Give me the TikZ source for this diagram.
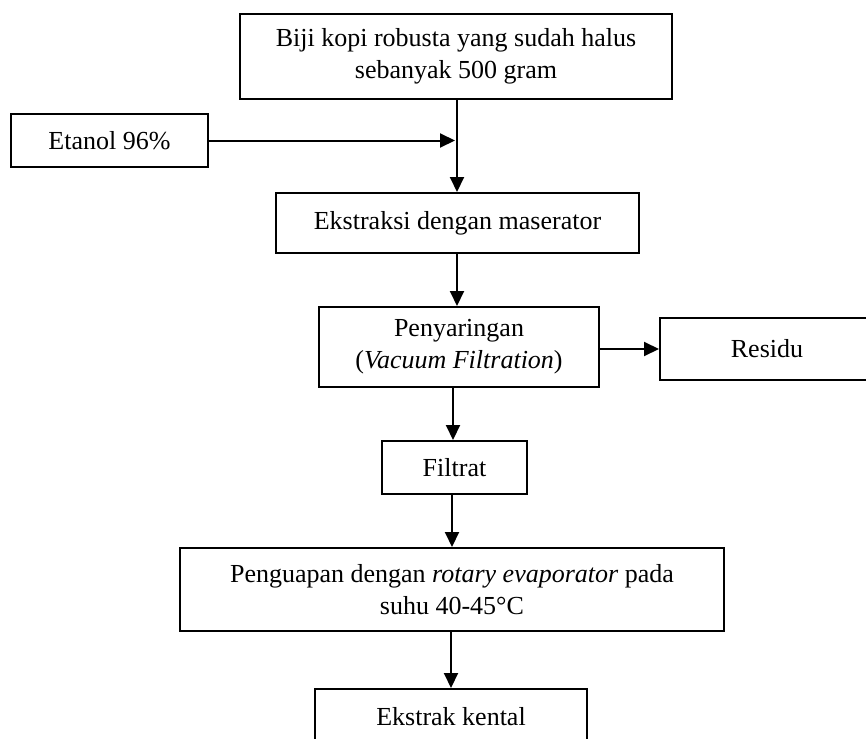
\documentclass[tikz,border=0pt]{standalone}
\usepackage{fontspec}
\setmainfont{Liberation Serif}
\usepackage{tikz}
\usetikzlibrary{calc,arrows.meta}

\begin{document}
\begin{tikzpicture}[x=.5pt, y=-.5pt,
        box/.style = {draw, line width=1pt, align=center, inner sep=2pt,
                      font=\fontsize{13}{16}\selectfont},
        flow/.style = {line width=1pt, -{Triangle[length=7.5pt, width=7pt]}}]
            \useasboundingbox (0,0) rectangle (866,738);
            \clip (0,0) rectangle (866,738);
            \node [box, minimum width=216pt, minimum height=42.5pt] (biji) at (456,56.5)
                {Biji kopi robusta yang sudah halus\\ sebanyak 500 gram};
            \node [box, minimum width=98.5pt, minimum height=26.5pt] (etanol) at (109.5,140.5) {Etanol 96\%};
            \node [box, minimum width=181.5pt, minimum height=30pt] (ekstraksi) at (457.5,223) {Ekstraksi dengan maserator};
            \node [box, minimum width=140pt, minimum height=40pt] (saring) at (459,347)
                {Penyaringan\\ (\textit{Vacuum Filtration})};
            \node [box, minimum width=107pt, minimum height=31pt] (residu) at (767,349) {Residu};
            \node [box, minimum width=72.5pt, minimum height=26.5pt] (filtrat) at (454.5,467.5) {Filtrat};
            \node [box, minimum width=272pt, minimum height=41.5pt] (uap) at (452,589.5)
                {Penguapan dengan \textit{rotary evaporator} pada\\ suhu 40-45\textdegree C};
            \node [box, minimum width=136pt, minimum height=28pt] (kental) at (451,717) {Ekstrak kental};
            \draw [flow] (biji.south -| 457,0) -- (ekstraksi.north -| 457,0);
            \draw [flow] (etanol.east) -- (etanol.east -| 455,0);
            \draw [flow] (ekstraksi.south -| 457,0) -- (saring.north -| 457,0);
            \draw [flow] (residu.west -| saring.east) -- (residu.west);
            \draw [flow] (saring.south -| 453,0) -- (filtrat.north -| 453,0);
            \draw [flow] (filtrat.south -| 452,0) -- (uap.north -| 452,0);
            \draw [flow] (uap.south -| 451,0) -- (kental.north -| 451,0);
        \end{tikzpicture}
\end{document}
